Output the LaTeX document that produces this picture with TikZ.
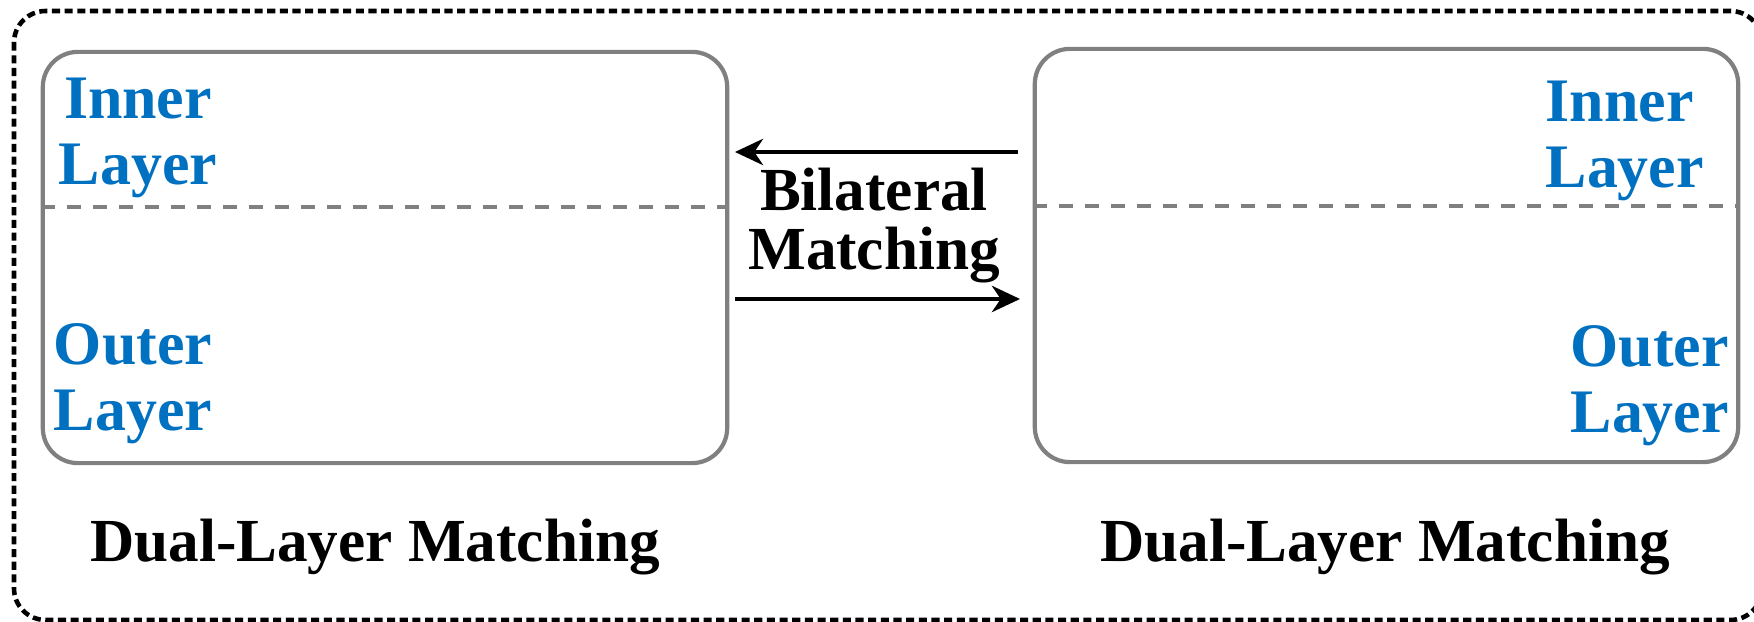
\documentclass[tikz,border=0pt]{standalone}
\usepackage{fontspec}
\setmainfont{Liberation Serif}
\usetikzlibrary{arrows.meta}
\usetikzlibrary{positioning}
\definecolor{boxgray}{RGB}{128,128,128}
\definecolor{layerblue}{RGB}{0,112,192}

\begin{document}
\begin{tikzpicture}[x=0.01cm,y=-0.01cm,
  layerbox/.style={draw=boxgray,line width=1.2pt,rounded corners=10pt,inner sep=0pt},
  divider/.style={draw=boxgray,line width=1.05pt,dash pattern=on 4pt off 3.4pt},
  layertext/.style={text=layerblue,font=\fontsize{17.6}{18.8}\selectfont\bfseries,inner sep=0pt},
  caption/.style={font=\fontsize{17.4}{17}\selectfont\bfseries,inner sep=0pt},
  match/.style={line width=1pt,-{Stealth[length=8pt,width=7.5pt,inset=2.5pt]}}]
  \useasboundingbox (0,0) rectangle (1754,622);
  \draw[line width=1.3pt,dash pattern=on 2.3pt off 1.3pt,rounded corners=9pt] (14,11) rectangle (1762,620);
  \node[layerbox,minimum width=6.84cm,minimum height=4.11cm] (lbox) at (385,257.5) {};
  \node[layerbox,minimum width=7.03cm,minimum height=4.13cm] (rbox) at (1386.5,255.5) {};
  \coordinate (lmid) at (0,207);
  \coordinate (rmid) at (0,206);
  \draw[divider] (lbox.west |- lmid) -- (lbox.east |- lmid);
  \draw[divider] (rbox.west |- rmid) -- (rbox.east |- rmid);
  \node[layertext,anchor=north,align=center] (linner) at (138,77) {Inner\\Layer};
  \node[layertext,anchor=north,align=center] (louter) at (133,323) {Outer\\Layer};
  \node[layertext,anchor=north west,align=left] (rinner) at (1545,80) {Inner\\Layer};
  \node[layertext,anchor=north west,align=left] (router) at (1570,325) {Outer\\Layer};
  \node[caption,anchor=north,align=center] (bilat) at (874,167) {Bilateral\\Matching};
  \node[caption,anchor=base] (lcap) at (375,562) {Dual-Layer Matching};
  \node[caption,anchor=base] (rcap) at (1385,562) {Dual-Layer Matching};
  \coordinate (rtop) at (1018,152);
  \coordinate (ltop) at (735,152);
  \coordinate (lbot) at (735,299);
  \coordinate (rbot) at (1020,299);
  \draw[match] (rtop) -- (ltop);
  \draw[match] (lbot) -- (rbot);
\end{tikzpicture}
\end{document}
